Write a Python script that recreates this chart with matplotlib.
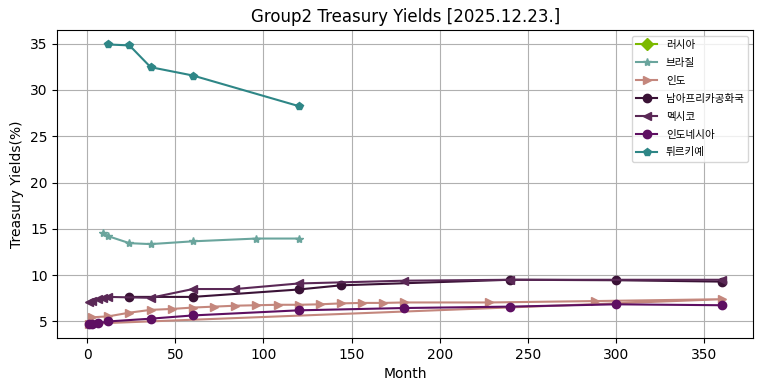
import matplotlib
matplotlib.use('Agg')
import matplotlib.pyplot as plt

# 국가별 만기(개월) / 금리(%)
russia_m = []
russia_y = []

brazil_m = [9, 12, 24, 36, 60, 96, 120]
brazil_y = [14.5, 14.2, 13.45, 13.35, 13.65, 13.95, 13.95]

india_m = [3, 12, 24, 36, 48, 60, 72, 84, 96, 108, 120, 132, 144, 156, 168, 180, 228, 288, 360, 1]
india_y = [5.45, 5.55, 5.95, 6.25, 6.35, 6.5, 6.6, 6.7, 6.75, 6.8, 6.8, 6.85, 6.95, 7.0, 7.0,
           7.05, 7.05, 7.2, 7.4, 4.75]

sa_m = [24, 60, 120, 144, 240, 300, 360]
sa_y = [7.65, 7.65, 8.45, 8.9, 9.5, 9.45, 9.3]

mexico_m = [1, 3, 6, 9, 12, 36, 60, 84, 120, 180, 240, 360]
mexico_y = [7.05, 7.25, 7.4, 7.55, 7.65, 7.55, 8.5, 8.5, 9.1, 9.4, 9.5, 9.5]

indonesia_m = [1, 3, 6, 12, 36, 60, 120, 180, 240, 300, 360]
indonesia_y = [4.7, 4.72, 4.8, 5.0, 5.3, 5.65, 6.2, 6.45, 6.6, 6.85, 6.75]

turkey_m = [12, 24, 36, 60, 120]
turkey_y = [34.9, 34.8, 32.45, 31.55, 28.25]

fig = plt.figure(figsize=(7.64, 3.91), dpi=100)
plt.subplots_adjust(left=0.075, right=0.986, top=0.922, bottom=0.135)

plt.plot(russia_m, russia_y, label='러시아', marker='D', color='#7cb900')
plt.plot(brazil_m, brazil_y, label='브라질', marker='*', color='#6aa59d')
plt.plot(india_m, india_y, label='인도', marker='>', color='#c4877d')
plt.plot(sa_m, sa_y, label='남아프리카공화국', marker='o', color='#3a1236')
plt.plot(mexico_m, mexico_y, label='멕시코', marker='<', color='#5a2856')
plt.plot(indonesia_m, indonesia_y, label='인도네시아', marker='o', color='#5e0f62')
plt.plot(turkey_m, turkey_y, label='튀르키예', marker='p', color='#2e8686')

plt.xlabel('Month')
plt.ylabel('Treasury Yields(%)')
plt.title('Group2 Treasury Yields [2025.12.23.]')
plt.legend(loc='upper right', prop={'family': ['Noto Sans CJK KR', 'DejaVu Sans'], 'size': 7.6},
           labelspacing=0.75)
plt.grid(True)

plt.savefig('out.png', dpi=100)
